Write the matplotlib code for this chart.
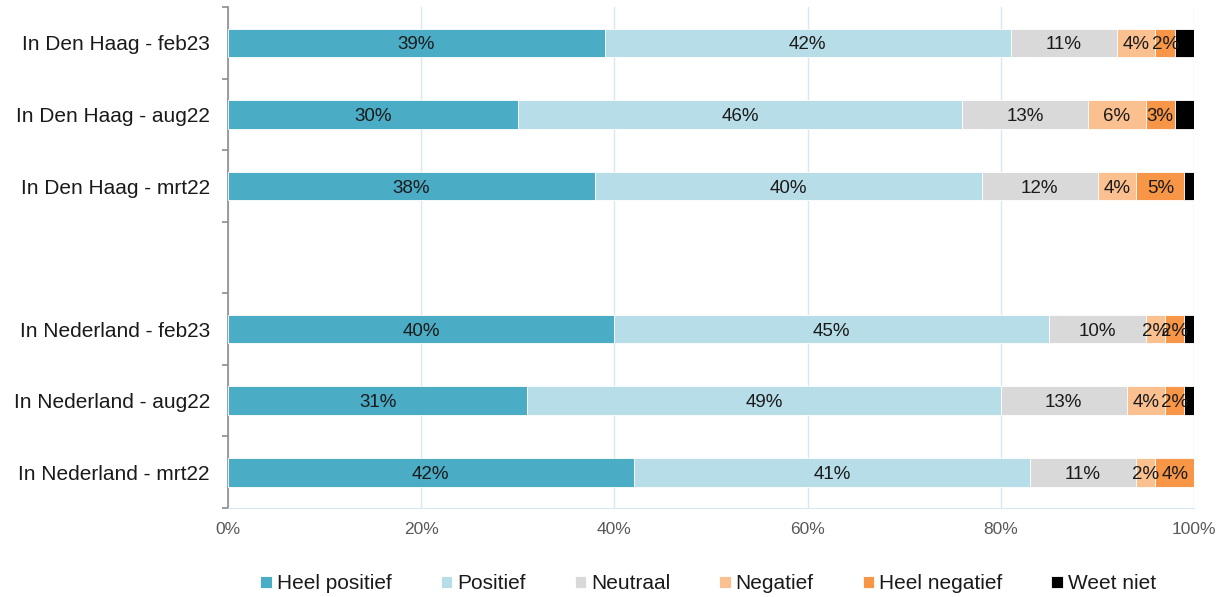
import numpy as np
import matplotlib
matplotlib.use("Agg")
import matplotlib.pyplot as plt

plt.rcParams['font.family'] = ['Liberation Sans', 'DejaVu Sans']

# data (percentages), top to bottom
groups = ["In Den Haag - feb23", "In Den Haag - aug22", "In Den Haag - mrt22",
          "In Nederland - feb23", "In Nederland - aug22", "In Nederland - mrt22"]
heel_positief = [39, 30, 38, 40, 31, 42]
positief = [42, 46, 40, 45, 49, 41]
neutraal = [11, 13, 12, 10, 13, 11]
negatief = [4, 6, 4, 2, 4, 2]
heel_negatief = [2, 3, 5, 2, 2, 4]
weet_niet = [2, 2, 1, 1, 1, 0]

series = [
    ("Heel positief", heel_positief, "#4bacc6", True),
    ("Positief", positief, "#b7dde8", True),
    ("Neutraal", neutraal, "#d9d9d9", True),
    ("Negatief", negatief, "#fac090", True),
    ("Heel negatief", heel_negatief, "#f79646", True),
    ("Weet niet", weet_niet, "#000000", False),
]

# leave an empty slot between the two blocks
ypos = np.array([0, 1, 2, 4, 5, 6])

fig, ax = plt.subplots(figsize=(12.21, 5.97), dpi=100)
fig.subplots_adjust(left=0.1867, right=0.978, top=0.988, bottom=0.149)

left = np.zeros(len(groups))
for name, vals, col, show in series:
    vals = np.array(vals, dtype=float)
    ax.barh(ypos, vals, left=left, height=0.4, color=col, label=name,
            edgecolor="white", linewidth=0.6, zorder=3)
    if show:
        for y, l, v in zip(ypos, left, vals):
            if v > 0:
                ax.text(l + v / 2, y, "%d%%" % v, ha="center", va="center_baseline",
                        fontsize=13.5, color="#1a1a1a", zorder=4)
    left += vals

ax.set_xlim(0, 100)
ax.set_ylim(6.5, -0.5)
ax.set_xticks(np.arange(0, 101, 20))
ax.set_xticklabels(["%d%%" % t for t in range(0, 101, 20)], fontsize=12.5, color="#595959")
ax.tick_params(axis="x", length=0, pad=10)
ax.set_yticks(ypos)
ax.set_yticklabels(groups, fontsize=15, color="#1a1a1a")
ax.set_yticks(np.arange(-0.5, 7, 1), minor=True)
ax.tick_params(axis="y", which="major", length=0, pad=13)
ax.tick_params(axis="y", which="minor", length=4.5, color="#8c8c8c", width=1.2)

ax.grid(axis="x", color="#d6e9f2", linewidth=1, zorder=0)
for s in ["top", "right"]:
    ax.spines[s].set_visible(False)
ax.spines["left"].set_color("#8c8c8c")
ax.spines["left"].set_linewidth(1.2)
ax.spines["bottom"].set_color("#d6e9f2")

fig.legend(loc="center", bbox_to_anchor=(0.58, 0.022), ncol=6, frameon=False,
           fontsize=15, handlelength=0.55, handleheight=0.55, handletextpad=0.24,
           columnspacing=2.35, labelcolor="#1a1a1a")

fig.savefig("out.png", dpi=100)
